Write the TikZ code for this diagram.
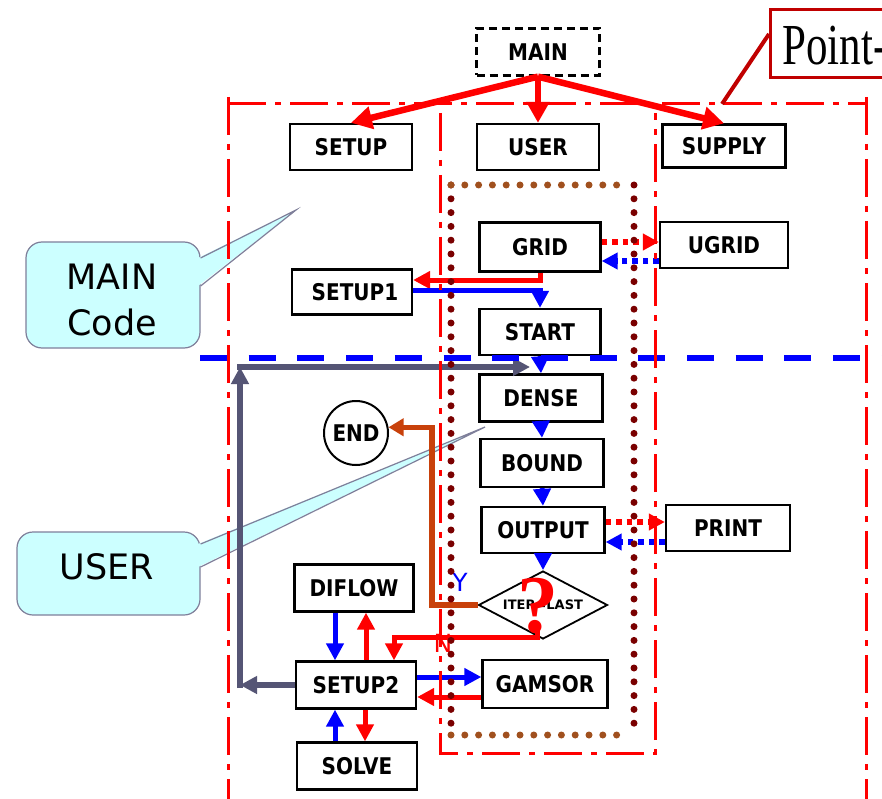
\documentclass[tikz,border=0pt]{standalone}
\usepackage{fontspec}
\setmainfont{DejaVu Sans}
\newfontfamily\ptfont{Liberation Serif}
\usetikzlibrary{arrows.meta,shapes.geometric,calc}
\definecolor{maroonD}{HTML}{7A0000}
\definecolor{brownD}{HTML}{A0501E}
\definecolor{slateG}{HTML}{555575}
\definecolor{rustO}{HTML}{C8410B}
\definecolor{calloutC}{HTML}{CCFFFF}
\definecolor{calloutB}{HTML}{7F7F9A}
\definecolor{ptred}{HTML}{C00000}
\newcommand{\bx}[1]{\scalebox{1}[1.15]{#1}}
\begin{document}
\begin{tikzpicture}[x=1pt,y=-1pt,
  blk/.style={draw, fill=white, line width=2.3pt, minimum width=122pt, minimum height=47pt, inner sep=0pt, font=\bfseries\fontsize{20}{20}\selectfont},
  callbox/.style={draw=calloutB, fill=calloutC, line width=1.2pt, rounded corners=16pt, inner sep=0pt},
  calltext/.style={inner sep=0pt, align=center, font=\fontsize{35}{46}\selectfont},
  frame/.style={red, line width=3pt, dash pattern=on 38pt off 9pt on 6pt off 9pt},
  dotside/.style={maroonD, line width=7pt, line cap=round, dash pattern=on 0pt off 13.8pt},
  dottop/.style={brownD, line width=7pt, line cap=round, dash pattern=on 0pt off 13.8pt},
  bigr/.style={red, line width=6.5pt, -{Triangle[length=21pt,width=22pt]}},
  fb/.style={blue, line width=5pt, -{Triangle[length=17pt,width=17pt]}},
  fr/.style={red, line width=5pt, -{Triangle[length=17pt,width=17pt]}},
  dr/.style={red, line width=5.5pt, dash pattern=on 5.5pt off 5pt, -{Triangle[length=16pt,width=16pt]}},
  db/.style={blue, line width=5.5pt, dash pattern=on 5.5pt off 5pt, -{Triangle[length=16pt,width=16pt]}},
  gy/.style={slateG, line width=5.5pt, -{Triangle[length=17pt,width=17pt]}},
  rs/.style={rustO, line width=5.5pt, -{Triangle[length=15pt,width=17pt]}}
]
\clip (0,0) rectangle (882,799);
\fill[white] (0,0) rectangle (882,799);

% callouts
\coordinate (mctip) at (296,210);
\coordinate (uctip) at (485,427);
\node[callbox, minimum width=174pt, minimum height=106pt] (mainc) at (113,295) {};
\fill[calloutC] (198,258) -- (mctip) -- (198,286) -- cycle;
\draw[calloutB, line width=1.2pt] (mainc.east |- 0,258) -- (mctip) -- (mainc.east |- 0,286);
\node[calltext] (mainct) at (112,300) {MAIN\\Code};
\node[callbox, minimum width=183pt, minimum height=83pt] (userc) at (108.5,573.5) {};
\fill[calloutC] (198,544) -- (uctip) -- (198,567) -- cycle;
\draw[calloutB, line width=1.2pt] (userc.east |- 0,544) -- (uctip) -- (userc.east |- 0,567);
\node[calltext] (userct) at (107,566.5) {USER};

% boxes
\node[blk, dash pattern=on 8pt off 5pt, minimum width=123pt] (main) at (538,52) {\bx{MAIN}};
\node[blk, minimum height=46pt] (setup) at (351,147) {\bx{SETUP}};
\node[blk, minimum height=46pt] (user) at (538,147) {\bx{USER}};
\node[blk, minimum width=123pt, minimum height=43pt] (supply) at (724,146) {\bx{SUPPLY}};
\node[blk, minimum width=121pt, minimum height=49pt] (grid) at (540,247) {\bx{GRID}};
\node[blk, minimum width=128pt, minimum height=46pt] (ugrid) at (724,245) {\bx{UGRID}};
\node[blk, minimum width=120pt, minimum height=45pt] (setupone) at (352,292) {\hspace*{6pt}\bx{SETUP1}};
\node[blk, minimum width=121pt, minimum height=46pt] (start) at (540,332) {\bx{START}};
\node[blk, minimum width=123pt] (dense) at (541,398) {\bx{DENSE}};
\node[blk, minimum width=123pt, minimum height=48pt] (bound) at (542,463) {\bx{BOUND}};
\node[blk, minimum width=123pt, minimum height=46pt] (output) at (543,530) {\bx{OUTPUT}};
\node[blk, minimum width=124pt, minimum height=46pt] (print) at (728,528) {\bx{PRINT}};
\node[blk, minimum width=119pt] (diflow) at (354,588) {\bx{DIFLOW}};
\node[blk, minimum width=120pt] (setuptwo) at (356,685) {\bx{SETUP2}};
\node[blk, minimum width=125pt, minimum height=48pt] (gamsor) at (545,684) {\bx{GAMSOR}};
\node[blk, minimum width=120pt] (solve) at (357,766) {\bx{SOLVE}};
\node[draw, fill=white, circle, line width=2pt, minimum size=64pt, inner sep=0pt, font=\bfseries\fontsize{20}{20}\selectfont] (end) at (356,433) {\bx{END}};
\node[draw, fill=white, diamond, aspect=1.9, line width=1.8pt, minimum width=129pt, minimum height=68pt, inner sep=0pt, font=\bfseries\fontsize{13}{13}\selectfont] (dia) at (543,605) {ITER=LAST};
\node[text=red, inner sep=0pt, font=\ptfont\bfseries\fontsize{82}{82}\selectfont] (qm) at (538,606) {?};

% connectors
\draw[bigr] (main.south) -- (setup.north);
\draw[bigr] (main.south) -- (user.north);
\draw[bigr] (main.south) -- (supply.north);
\draw[dr] (grid.east |- 0,242) -- (ugrid.west |- 0,242);
\draw[db] (ugrid.west |- 0,261) -- (grid.east |- 0,261);
\draw[fr] (grid.south) |- (setupone.east |- 0,280);
\draw[fb] (setupone.east |- 0,290) -| (start.north);
\draw[fb] (start.south) -- (dense.north);
\draw[fb] (dense.south) -- (bound.north);
\draw[fb] (bound.south) -- (output.north);
\draw[fb] (output.south) -- (dia.north);
\draw[dr] (output.east |- 0,522) -- (print.west |- 0,522);
\draw[db] (print.west |- 0,542) -- (output.east |- 0,542);
\coordinate (g1) at (240,685);
\coordinate (g2) at (240,367);
\coordinate (g3) at (530,367);
\draw[gy] (setuptwo.west) -- (g1);
\draw[gy] ($(g1)+(0,3)$) -- (g2);
\draw[gy] ($(g2)+(-2.75,0)$) -- (g3);
\draw[rs] (dia.west) -- (dia.west -| 432,0) |- (end.10);
\coordinate (nq) at (537,630);
\draw[fr] (nq) -- (nq |- 0,637) -| ($(setuptwo.north)+(38,0)$);
\draw[fb] (diflow.south -| 335,0) -- (setuptwo.north -| 335,0);
\draw[fr] (setuptwo.north -| 366,0) -- (diflow.south -| 366,0);
\draw[fb] (setuptwo.east |- 0,677) -- (gamsor.west |- 0,677);
\draw[fr] (gamsor.west |- 0,697) -- (setuptwo.east |- 0,697);
\draw[fb] (solve.north -| 335,0) -- (setuptwo.south -| 335,0);
\draw[fr] (setuptwo.south -| 365,0) -- (solve.north -| 365,0);

% labels
\node[text=blue, inner sep=0pt, font=\fontsize{25}{25}\selectfont] (ylab) at (460,582) {Y};
\node[text=red, inner sep=0pt, font=\fontsize{25}{25}\selectfont] (nlab) at (443,643) {N};

% blue dashed separator
\draw[blue, line width=6pt, dash pattern=on 27pt off 21.7pt] (200,358) -- (882,358);

% red dash-dot frames
\draw[frame] (228,97) -- (228,799);
\draw[frame] (228,104) -- (866,104);
\draw[frame] (866,97) -- (866,799);
\draw[frame] (440,113) -- (440,753) -- (655,753) -- (655,113);

% dotted user box
\draw[dotside] (451,185) -- (451,735);
\draw[dotside] (634,185) -- (634,735);
\draw[dottop] (451,185) -- (630,185);
\draw[dottop] (451,735) -- (630,735);

% Point- box
\node[draw=ptred, line width=3pt, anchor=north west, inner sep=0pt, minimum width=150pt, minimum height=68pt] (pt) at (769,8) {};
\node[anchor=base west, inner sep=0pt, font=\ptfont\fontsize{43}{43}\selectfont] (pttext) at (782,65) {\scalebox{1}[1.35]{Point-}};
\coordinate (ptfoot) at (722,104);
\draw[ptred, line width=4pt] (ptfoot) -- ($(pt.north west)+(0,26)$);
\end{tikzpicture}
\end{document}
